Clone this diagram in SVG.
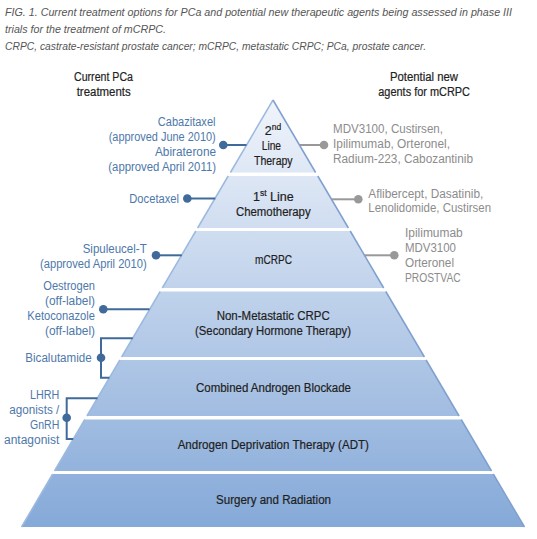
<svg xmlns="http://www.w3.org/2000/svg" width="537" height="539" viewBox="0 0 537 539">
<style>
text{font-family:"Liberation Sans",Arial,sans-serif;font-size:12.5px}
.cap{font-style:italic;fill:#555;font-size:11.5px}
.hd{fill:#222;stroke:#222;stroke-width:0.2}
.tier{fill:#1e1e1e;stroke:#1e1e1e;stroke-width:0.2;text-anchor:middle}
.lt{fill:#4d78aa;text-anchor:end}
.rt{fill:#8c8c8c}
.bl{stroke:#3f6a9a;stroke-width:2;fill:none}
.gl{stroke:#999;stroke-width:2;fill:none}
.bd{fill:#3f6a9a}
.gd{fill:#999}
.tr{fill:url(#pg);stroke:none}
.er{stroke:#7fa0cf;stroke-width:1.5;fill:none}
.el{stroke:#9cb9e0;stroke-width:1.5;fill:none}
</style>
<defs>
<linearGradient id="pg" gradientUnits="userSpaceOnUse" x1="0" y1="100" x2="0" y2="527">
<stop offset="0" stop-color="#f0f4fb"/>
<stop offset="1" stop-color="#85a9d8"/>
</linearGradient>
</defs>
<rect width="537" height="539" fill="#fff"/>
<g id="caption">
<text class="cap" x="5" y="16" style="font-size:10.4px" textLength="507" lengthAdjust="spacingAndGlyphs">FIG. 1. Current treatment options for PCa and potential new therapeutic agents being assessed in phase III</text>
<text class="cap" x="5" y="33" textLength="161" lengthAdjust="spacingAndGlyphs">trials for the treatment of mCRPC.</text>
<text class="cap" x="5" y="50" textLength="421" lengthAdjust="spacingAndGlyphs">CRPC, castrate-resistant prostate cancer; mCRPC, metastatic CRPC; PCa, prostate cancer.</text>
</g>
<g id="headers">
<text class="hd" x="74" y="81" textLength="59" lengthAdjust="spacingAndGlyphs">Current PCa</text>
<text class="hd" x="76.7" y="96" textLength="54" lengthAdjust="spacingAndGlyphs">treatments</text>
<text class="hd" x="390" y="81" textLength="68" lengthAdjust="spacingAndGlyphs">Potential new</text>
<text class="hd" x="378.3" y="96" textLength="91.7" lengthAdjust="spacingAndGlyphs">agents for mCRPC</text>
</g>
<g id="pyramid">
<g id="tier1">
<polygon class="tr" points="273,100 315.6,172.5 230.4,172.5"/>
<line class="el" x1="273" y1="100" x2="230.4" y2="172.5"/><line class="er" x1="273" y1="100" x2="315.6" y2="172.5"/>
<text class="tier" x="273" y="135">2<tspan font-size="8.5" dy="-5">nd</tspan></text>
<text class="tier" x="271.4" y="150" textLength="19.3" lengthAdjust="spacingAndGlyphs">Line</text>
<text class="tier" x="273.3" y="165" textLength="38.7" lengthAdjust="spacingAndGlyphs">Therapy</text>
</g>
<g id="tier2">
<polygon class="tr" points="228.2,176 317.8,176 348.4,228 197.6,228"/>
<line class="el" x1="228.2" y1="176" x2="197.6" y2="228"/><line class="er" x1="317.8" y1="176" x2="348.4" y2="228"/>
<text class="tier" x="273.3" y="200.5">1<tspan font-size="8.5" dy="-5">st</tspan><tspan dy="5"> Line</tspan></text>
<text class="tier" x="273.3" y="215.5" textLength="74.7" lengthAdjust="spacingAndGlyphs">Chemotherapy</text>
</g>
<g id="tier3">
<polygon class="tr" points="195.8,231 350.2,231 383.7,288 162.3,288"/>
<line class="el" x1="195.8" y1="231" x2="162.3" y2="288"/><line class="er" x1="350.2" y1="231" x2="383.7" y2="288"/>
<text class="tier" x="273.5" y="263.5" textLength="37" lengthAdjust="spacingAndGlyphs">mCRPC</text>
</g>
<g id="tier4">
<polygon class="tr" points="160.2,291.5 385.8,291.5 424.4,357 121.6,357"/>
<line class="el" x1="160.2" y1="291.5" x2="121.6" y2="357"/><line class="er" x1="385.8" y1="291.5" x2="424.4" y2="357"/>
<text class="tier" x="273.2" y="320" textLength="113" lengthAdjust="spacingAndGlyphs">Non-Metastatic CRPC</text>
<text class="tier" x="273" y="335" textLength="156" lengthAdjust="spacingAndGlyphs">(Secondary Hormone Therapy)</text>
</g>
<g id="tier5">
<polygon class="tr" points="119.9,360 426.1,360 459.1,416 86.9,416"/>
<line class="el" x1="119.9" y1="360" x2="86.9" y2="416"/><line class="er" x1="426.1" y1="360" x2="459.1" y2="416"/>
<text class="tier" x="273.5" y="391.5" textLength="155" lengthAdjust="spacingAndGlyphs">Combined Androgen Blockade</text>
</g>
<g id="tier6">
<polygon class="tr" points="84.8,419.5 461.2,419.5 491.5,471 54.5,471"/>
<line class="el" x1="84.8" y1="419.5" x2="54.5" y2="471"/><line class="er" x1="461.2" y1="419.5" x2="491.5" y2="471"/>
<text class="tier" x="273.3" y="448.5" textLength="191.3" lengthAdjust="spacingAndGlyphs">Androgen Deprivation Therapy (ADT)</text>
</g>
<g id="tier7">
<polygon class="tr" points="52.7,474 493.3,474 524.5,527 21.5,527"/>
<line class="el" x1="52.7" y1="474" x2="21.5" y2="527"/><line class="er" x1="493.3" y1="474" x2="524.5" y2="527"/>
<text class="tier" x="273.5" y="503.5" textLength="115" lengthAdjust="spacingAndGlyphs">Surgery and Radiation</text>
</g>
</g>
<g id="connectors">
<line class="bl" x1="223.3" y1="145" x2="246.5" y2="145"/>
<line class="gl" x1="299.5" y1="145" x2="324" y2="145"/>
<line class="bl" x1="187.3" y1="198.5" x2="215.3" y2="198.5"/>
<line class="gl" x1="331.3" y1="199.3" x2="358.3" y2="199.3"/>
<line class="bl" x1="156" y1="255.3" x2="181.8" y2="255.3"/>
<line class="gl" x1="364.3" y1="255.3" x2="394.3" y2="255.3"/>
<line class="bl" x1="103.3" y1="309.3" x2="149.5" y2="309.3"/>
<polyline class="bl" points="132.8,338.3 101,338.3 101,377.7 109.4,377.7"/>
<polyline class="bl" points="97.5,398.3 66.7,398.3 66.7,439 73.3,439"/>
</g>
<g id="left-cabazitaxel">
<text class="lt" x="215.5" y="126" textLength="57.7" lengthAdjust="spacingAndGlyphs">Cabazitaxel</text>
<text class="lt" x="215.7" y="141" textLength="107" lengthAdjust="spacingAndGlyphs">(approved June 2010)</text>
<text class="lt" x="216" y="156" textLength="61" lengthAdjust="spacingAndGlyphs">Abiraterone</text>
<text class="lt" x="216" y="171" textLength="107.7" lengthAdjust="spacingAndGlyphs">(approved April 2011)</text>
<circle class="bd" cx="223.3" cy="145" r="4.3"/>
</g>
<g id="left-docetaxel">
<text class="lt" x="179" y="203" textLength="49.7" lengthAdjust="spacingAndGlyphs">Docetaxel</text>
<circle class="bd" cx="187.3" cy="198.5" r="4.3"/>
</g>
<g id="left-sipuleucel">
<text class="lt" x="146.7" y="253" textLength="64" lengthAdjust="spacingAndGlyphs">Sipuleucel-T</text>
<text class="lt" x="146.7" y="268" textLength="106.7" lengthAdjust="spacingAndGlyphs">(approved April 2010)</text>
<circle class="bd" cx="156" cy="255.3" r="4.3"/>
</g>
<g id="left-oestrogen">
<text class="lt" x="95" y="290" textLength="51.7" lengthAdjust="spacingAndGlyphs">Oestrogen</text>
<text class="lt" x="95" y="305" textLength="50" lengthAdjust="spacingAndGlyphs">(off-label)</text>
<text class="lt" x="95" y="320" textLength="67.7" lengthAdjust="spacingAndGlyphs">Ketoconazole</text>
<text class="lt" x="95" y="335" textLength="50" lengthAdjust="spacingAndGlyphs">(off-label)</text>
<circle class="bd" cx="103.3" cy="309.3" r="4.3"/>
</g>
<g id="left-bicalutamide">
<text class="lt" x="91.7" y="362" textLength="66.4" lengthAdjust="spacingAndGlyphs">Bicalutamide</text>
<circle class="bd" cx="101" cy="357.7" r="4.3"/>
</g>
<g id="left-lhrh">
<text class="lt" x="59.3" y="399" textLength="29.3" lengthAdjust="spacingAndGlyphs">LHRH</text>
<text class="lt" x="59.3" y="414" textLength="50" lengthAdjust="spacingAndGlyphs">agonists /</text>
<text class="lt" x="59.3" y="429" textLength="29.3" lengthAdjust="spacingAndGlyphs">GnRH</text>
<text class="lt" x="59.3" y="444" textLength="55.3" lengthAdjust="spacingAndGlyphs">antagonist</text>
<circle class="bd" cx="66.7" cy="417.7" r="4.3"/>
</g>
<g id="right-2nd-line">
<text class="rt" x="333" y="133" textLength="110" lengthAdjust="spacingAndGlyphs">MDV3100, Custirsen,</text>
<text class="rt" x="333" y="148" textLength="117" lengthAdjust="spacingAndGlyphs">Ipilimumab, Orteronel,</text>
<text class="rt" x="333" y="163" textLength="140" lengthAdjust="spacingAndGlyphs">Radium-223, Cabozantinib</text>
<circle class="gd" cx="324" cy="145" r="4.3"/>
</g>
<g id="right-1st-line">
<text class="rt" x="368.3" y="197.5" textLength="115" lengthAdjust="spacingAndGlyphs">Aflibercept, Dasatinib,</text>
<text class="rt" x="368.3" y="212" textLength="122.7" lengthAdjust="spacingAndGlyphs">Lenolidomide, Custirsen</text>
<circle class="gd" cx="358.3" cy="199.3" r="4.3"/>
</g>
<g id="right-mcrpc">
<text class="rt" x="405" y="237" textLength="57.7" lengthAdjust="spacingAndGlyphs">Ipilimumab</text>
<text class="rt" x="405" y="252" textLength="51" lengthAdjust="spacingAndGlyphs">MDV3100</text>
<text class="rt" x="405" y="267" textLength="49" lengthAdjust="spacingAndGlyphs">Orteronel</text>
<text class="rt" x="405" y="282" textLength="55.7" lengthAdjust="spacingAndGlyphs">PROSTVAC</text>
<circle class="gd" cx="394.3" cy="255.3" r="4.3"/>
</g>
</svg>
